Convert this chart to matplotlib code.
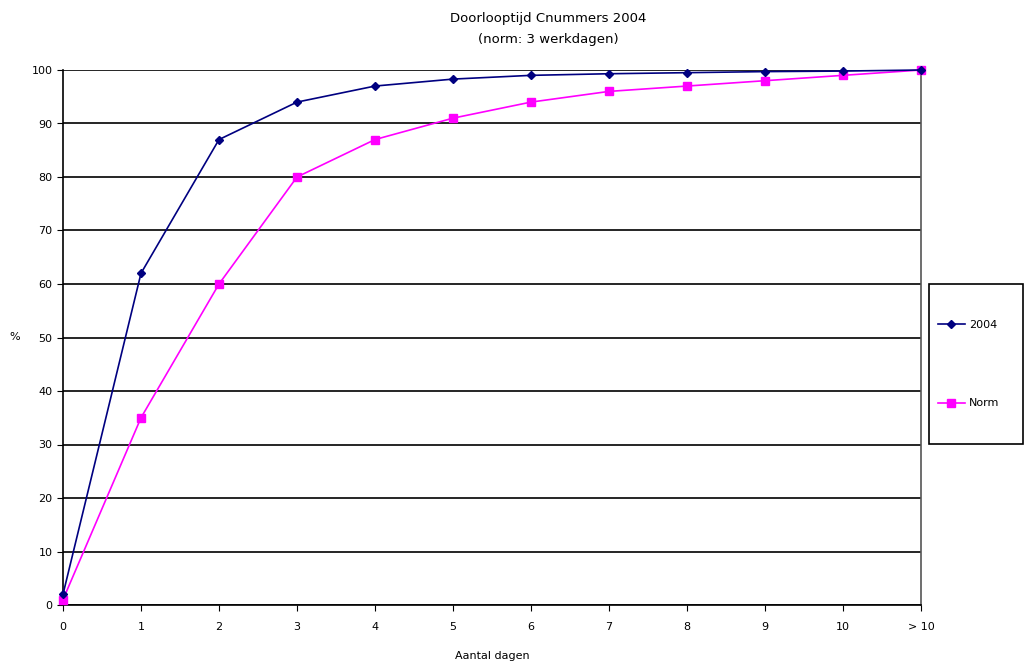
import matplotlib
matplotlib.use('Agg')
import matplotlib.pyplot as plt
from matplotlib.patches import Rectangle

categories = ['0', '1', '2', '3', '4', '5', '6', '7', '8', '9', '10', '> 10']
values_2004 = [2, 62, 87, 94, 97, 98.3, 99, 99.3, 99.5, 99.7, 99.8, 100]
values_norm = [1, 35, 60, 80, 87, 91, 94, 96, 97, 98, 99, 100]

W, H = 1026, 667
fig = plt.figure(figsize=(W / 100, H / 100), dpi=100)
ax = fig.add_axes([63 / W, 1 - 605 / H, (921 - 63) / W, (605 - 70) / H])

x = range(len(categories))
ax.plot(x, values_2004, color='#000080', marker='D', markersize=4, linewidth=1.2,
        label='2004', clip_on=False, zorder=4)
ax.plot(x, values_norm, color='#FF00FF', marker='s', markersize=6, linewidth=1.2,
        label='Norm', clip_on=False, zorder=3)

ax.set_xlim(0, len(categories) - 1)
ax.set_ylim(0, 100)
ax.set_xticks(list(x))
ax.set_xticklabels(categories, fontsize=8)
ax.set_yticks(range(0, 101, 10))
ax.tick_params(axis='y', labelsize=8, length=4, direction='out')
ax.tick_params(axis='x', length=4, direction='out', pad=8)
ax.yaxis.grid(True, color='black', linewidth=1.2)
ax.set_axisbelow(True)
for s in ax.spines.values():
    s.set_color('black')
    s.set_linewidth(1.2)
ax.spines['top'].set_visible(False)
ax.spines['right'].set_color('#555555')

ax.set_xlabel('Aantal dagen', fontsize=8, labelpad=14)
ax.set_ylabel('%', fontsize=8, rotation=0, labelpad=12, va='center')

fig.text(548 / W, 1 - 29 / H, 'Doorlooptijd Cnummers 2004\n(norm: 3 werkdagen)',
         ha='center', va='center', fontsize=9.5, linespacing=1.75)

# legend box drawn by hand so it can be tall and narrow like the original
fig.patches.append(Rectangle((929 / W, 1 - 444 / H), (1023 - 929) / W, 160 / H,
                             transform=fig.transFigure, fill=False,
                             edgecolor='black', linewidth=1.2))
fig.legend(loc='center left', bbox_to_anchor=(938 / W, 1 - 364 / H),
           fontsize=8, frameon=False, labelspacing=6.2, borderpad=0,
           handlelength=2.4, handletextpad=0.4, borderaxespad=0)

fig.savefig('out.png', dpi=100)
